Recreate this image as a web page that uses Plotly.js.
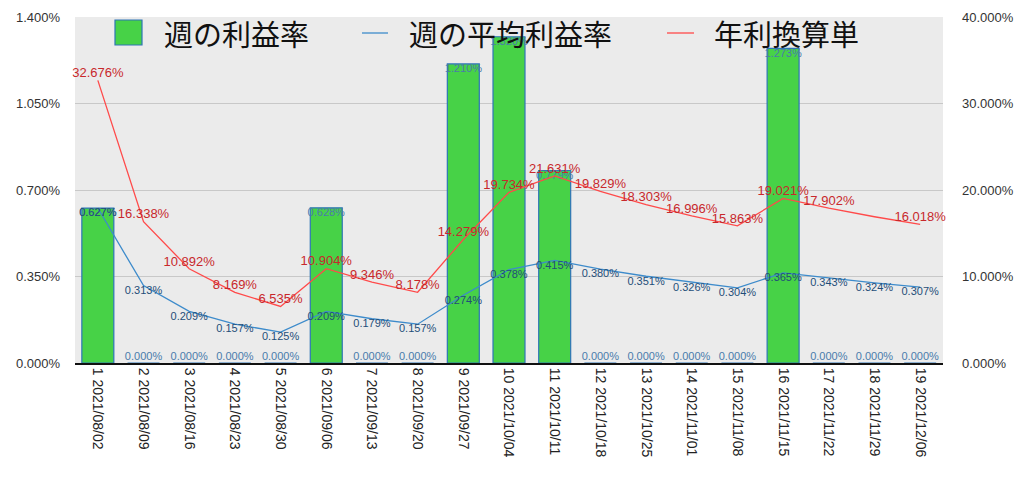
<!DOCTYPE html>
<html>
<head>
<meta charset="utf-8">
<script src="https://cdn.plot.ly/plotly-3.0.1.min.js"></script>
<style>html,body{margin:0;padding:0;background:#fff;}#chart{width:1024px;height:481px;}</style>
</head>
<body>
<div id="chart"></div>
<script>
const categories = ["1 2021/08/02","2 2021/08/09","3 2021/08/16","4 2021/08/23","5 2021/08/30","6 2021/09/06","7 2021/09/13","8 2021/09/20","9 2021/09/27","10 2021/10/04","11 2021/10/11","12 2021/10/18","13 2021/10/25","14 2021/11/01","15 2021/11/08","16 2021/11/15","17 2021/11/22","18 2021/11/29","19 2021/12/06"];
const weeklyRate = [0.627,0,0,0,0,0.628,0,0,1.210,1.320,0.779,0,0,0,0,1.273,0,0,0];
const avgRate = [0.627,0.313,0.209,0.157,0.125,0.209,0.179,0.157,0.274,0.378,0.415,0.380,0.351,0.326,0.304,0.365,0.343,0.324,0.307];
const annualRate = [32.676,16.338,10.892,8.169,6.535,10.904,9.346,8.178,14.279,19.734,21.631,19.829,18.303,16.996,15.863,19.021,17.902,16.907,16.018];
const annualLabelShown = [1,1,1,1,1,1,1,1,1,1,1,1,1,1,1,1,1,0,1];
const seriesNames = ['週の利益率','週の平均利益率','年利換算単'];
const leftTicks = [0,0.35,0.7,1.05,1.4];
const rightTicks = [0,10,20,30,40];

const fontFam = '"Liberation Sans", Arial, sans-serif';
const cjkFam = '"Noto Sans CJK JP", "Liberation Sans", sans-serif';
const green = '#47d247', barLine = '#2e75b6', blue = '#3d8bcb', red = '#ff4a4a';

const traces = [
  {
    type: 'bar', name: seriesNames[0], x: categories, y: weeklyRate,
    marker: {color: green, line: {color: barLine, width: 1.2}},
    width: 0.7, hoverinfo: 'skip'
  },
  {
    type: 'scatter', mode: 'lines', name: seriesNames[1], x: categories, y: avgRate,
    line: {color: blue, width: 1.3}
  },
  {
    type: 'scatter', mode: 'lines', name: seriesNames[2], x: categories, y: annualRate, yaxis: 'y2',
    line: {color: red, width: 1.3}
  },
  {
    type: 'scatter', mode: 'text', showlegend: false, x: categories, y: weeklyRate,
    text: weeklyRate.map(v => v.toFixed(3) + '%'),
    textposition: weeklyRate.map(v => v > 0 ? 'bottom center' : 'top center'),
    textfont: {family: fontFam, size: 11, color: '#4a7bab'}, cliponaxis: false
  },
  {
    type: 'scatter', mode: 'text', showlegend: false, x: categories, y: avgRate,
    text: avgRate.map(v => v.toFixed(3) + '%'),
    textposition: 'bottom center',
    textfont: {family: fontFam, size: 11, color: '#1f4e79'}, cliponaxis: false
  },
  {
    type: 'scatter', mode: 'text', showlegend: false, x: categories, y: annualRate, yaxis: 'y2',
    text: annualRate.map((v, i) => annualLabelShown[i] ? v.toFixed(3) + '%' : ''),
    textposition: 'top center',
    textfont: {family: fontFam, size: 13, color: '#c8282b'}, cliponaxis: false
  }
];

// manual legend (pixel positions converted to paper coordinates)
const L = 75, W = 868, B = 363, H = 346;
const px = x => (x - L) / W;
const py = y => (B - y) / H;
const legY = 33;
const shapes = [
  {type: 'rect', xref: 'paper', yref: 'paper', x0: px(115), x1: px(142), y0: py(45), y1: py(20),
   fillcolor: green, line: {color: barLine, width: 1.2}},
  {type: 'line', xref: 'paper', yref: 'paper', x0: px(362), x1: px(388), y0: py(legY), y1: py(legY),
   line: {color: blue, width: 1.3}},
  {type: 'line', xref: 'paper', yref: 'paper', x0: px(667), x1: px(694), y0: py(legY), y1: py(legY),
   line: {color: red, width: 1.3}}
];
const legTextX = [162, 407, 712];
const annotations = seriesNames.map((n, i) => ({
  xref: 'paper', yref: 'paper', x: px(legTextX[i]), y: py(legY), xanchor: 'left', yanchor: 'middle',
  text: n, showarrow: false, font: {family: cjkFam, size: 29, color: '#111'}
}));

const layout = {
  width: 1024, height: 481,
  margin: {l: 75, r: 81, t: 17, b: 118},
  paper_bgcolor: '#ffffff', plot_bgcolor: '#ebebeb',
  showlegend: false,
  shapes: shapes, annotations: annotations,
  xaxis: {
    type: 'category', range: [-0.5, 18.5], autorange: false, tickangle: 90, showgrid: false, zeroline: false,
    showline: true, linecolor: '#111', linewidth: 2,
    ticks: '', tickfont: {family: fontFam, size: 14, color: '#222'},
    automargin: false, fixedrange: true
  },
  yaxis: {
    range: [0, 1.4], autorange: false, tickvals: leftTicks, ticktext: leftTicks.map(v => v.toFixed(3) + '%'),
    gridcolor: '#c8c8c8', gridwidth: 1, zeroline: false, showline: false, automargin: false,
    tickfont: {family: fontFam, size: 13, color: '#333'}, ticklabelstandoff: 14
  },
  yaxis2: {
    overlaying: 'y', side: 'right', range: [0, 40], autorange: false, tickvals: rightTicks,
    ticktext: rightTicks.map(v => v.toFixed(3) + '%'), automargin: false,
    showgrid: false, zeroline: false, showline: false,
    tickfont: {family: fontFam, size: 13, color: '#333'}, ticklabelstandoff: 18
  }
};

Plotly.newPlot('chart', traces, layout, {displayModeBar: false, staticPlot: true});
</script>
</body>
</html>
